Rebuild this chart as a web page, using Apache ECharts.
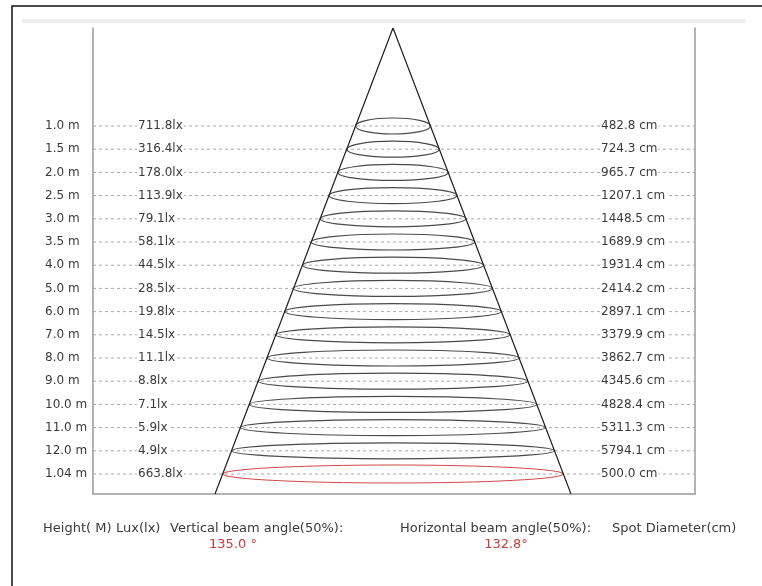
<!DOCTYPE html>
<html><head><meta charset="utf-8">
<script src="https://cdn.jsdelivr.net/npm/echarts@6/dist/echarts.min.js"></script>
<style>html,body{margin:0;padding:0;background:#fff}#c{width:762px;height:586px}</style>
</head><body><div id="c"></div>
<script>
// ---- data ----
const heights = ['1.0 m','1.5 m','2.0 m','2.5 m','3.0 m','3.5 m','4.0 m','5.0 m','6.0 m','7.0 m','8.0 m','9.0 m','10.0 m','11.0 m','12.0 m','1.04 m'];
const lux = [711.8, 316.4, 178.0, 113.9, 79.1, 58.1, 44.5, 28.5, 19.8, 14.5, 11.1, 8.8, 7.1, 5.9, 4.9, 663.8];
const diameters = [482.8, 724.3, 965.7, 1207.1, 1448.5, 1689.9, 1931.4, 2414.2, 2897.1, 3379.9, 3862.7, 4345.6, 4828.4, 5311.3, 5794.1, 500.0];
const highlightRow = 15;            // the red (custom height) row
const verticalAngle = '135.0 °';
const horizontalAngle = '132.8°';
const bottomLabels = ['Height( M)', 'Lux(lx)', 'Vertical beam angle(50%):', 'Horizontal beam angle(50%):', 'Spot Diameter(cm)'];
// cone outline in axis units (x: drawing units, y: row index)
const coneX = [-178, 0, 178];
const coneY = [15.862, -4.224, 15.862];

const FONT = '12px "DejaVu Sans", sans-serif';
const FONT_B = '13px "DejaVu Sans", sans-serif';
const chart = echarts.init(document.getElementById('c'), null, {renderer: 'canvas'});

const apexY = coneY[1], baseY = coneY[0], baseHalf = coneX[2];

const rowData = heights.map((h, i) => [i]);

function renderRow(params, api) {
  const i = api.value(0);
  const left = api.coord([-300, i]);
  const right = api.coord([302, i]);
  const c = api.coord([0, i]);
  const hw = baseHalf * (i - apexY) / (baseY - apexY);
  const e = api.coord([hw, i]);
  const rx = e[0] - c[0];
  const red = i === highlightRow;
  const ry = red ? 9 : 8;
  const cy = c[1];
  const path = `M ${c[0]-rx} ${cy} A ${rx} ${ry} 0 1 0 ${c[0]+rx} ${cy} A ${rx} ${ry} 0 1 0 ${c[0]-rx} ${cy} Z`;
  const txt = (x, s) => ({
    type: 'text', x: x, y: cy,
    style: {text: s, fill: '#3a3a3a', font: FONT, verticalAlign: 'middle', align: 'left',
            backgroundColor: '#fff', padding: [0, 1]}
  });
  return {
    type: 'group',
    children: [
      {type: 'line', shape: {x1: left[0], y1: cy, x2: right[0], y2: cy},
       style: {stroke: '#a8a8a8', lineWidth: 1, lineDash: [3, 3]}},
      {type: 'path', shape: {pathData: path},
       style: {fill: null, stroke: red ? '#d04848' : '#4a4a4a', lineWidth: red ? 1 : 1.2}},
      {type: 'text', x: 45, y: cy,
       style: {text: heights[i], fill: '#3a3a3a', font: FONT, verticalAlign: 'middle', align: 'left'}},
      txt(137, lux[i].toFixed(1) + 'lx'),
      txt(600, diameters[i].toFixed(1) + ' cm')
    ]
  };
}

const axisLineStyle = {show: true, onZero: false, lineStyle: {color: '#9a9a9a', width: 1.5}};
const option = {
  backgroundColor: '#fff',
  animation: false,
  grid: {left: 93, right: 67, top: 28, bottom: 92},
  xAxis: {type: 'value', min: -300, max: 302,
    axisLine: axisLineStyle,
    axisTick: {show: false}, axisLabel: {show: false}, splitLine: {show: false}},
  yAxis: [
    {type: 'value', inverse: true, min: apexY, max: baseY,
     axisLine: axisLineStyle,
     axisTick: {show: false}, axisLabel: {show: false}, splitLine: {show: false}},
    {type: 'value', inverse: true, min: apexY, max: baseY, position: 'right',
     axisLine: axisLineStyle,
     axisTick: {show: false}, axisLabel: {show: false}, splitLine: {show: false}}
  ],
  graphic: [
    {type: 'rect', shape: {x: 12, y: 6, width: 800, height: 700}, style: {fill: null, stroke: '#111', lineWidth: 1.5}, z: 0},
    {type: 'rect', shape: {x: 22, y: 19, width: 723, height: 4}, style: {fill: '#ededed'}, z: 0},
    {type: 'text', x: 43, y: 529, style: {text: bottomLabels[0], font: FONT_B, fill: '#3a3a3a', verticalAlign: 'middle'}},
    {type: 'text', x: 116, y: 529, style: {text: bottomLabels[1], font: FONT_B, fill: '#3a3a3a', verticalAlign: 'middle'}},
    {type: 'text', x: 170, y: 529, style: {text: bottomLabels[2], font: FONT_B, fill: '#3a3a3a', verticalAlign: 'middle'}},
    {type: 'text', x: 400, y: 529, style: {text: bottomLabels[3], font: FONT_B, fill: '#3a3a3a', verticalAlign: 'middle'}},
    {type: 'text', x: 612, y: 529, style: {text: bottomLabels[4], font: FONT_B, fill: '#3a3a3a', verticalAlign: 'middle'}},
    {type: 'text', x: 233, y: 545, style: {text: verticalAngle, font: FONT_B, fill: '#c83c3c', verticalAlign: 'middle', align: 'center'}},
    {type: 'text', x: 506, y: 545, style: {text: horizontalAngle, font: FONT_B, fill: '#c83c3c', verticalAlign: 'middle', align: 'center'}}
  ],
  series: [
    {type: 'custom', renderItem: renderRow, data: rowData, encode: {x: -1, y: 0}, clip: false, z: 2},
    {type: 'line', data: coneX.map((x, k) => [x, coneY[k]]), symbol: 'none', silent: true,
     lineStyle: {color: '#1e1e1e', width: 1.2}, z: 3}
  ]
};
chart.setOption(option);
</script>
</body></html>
